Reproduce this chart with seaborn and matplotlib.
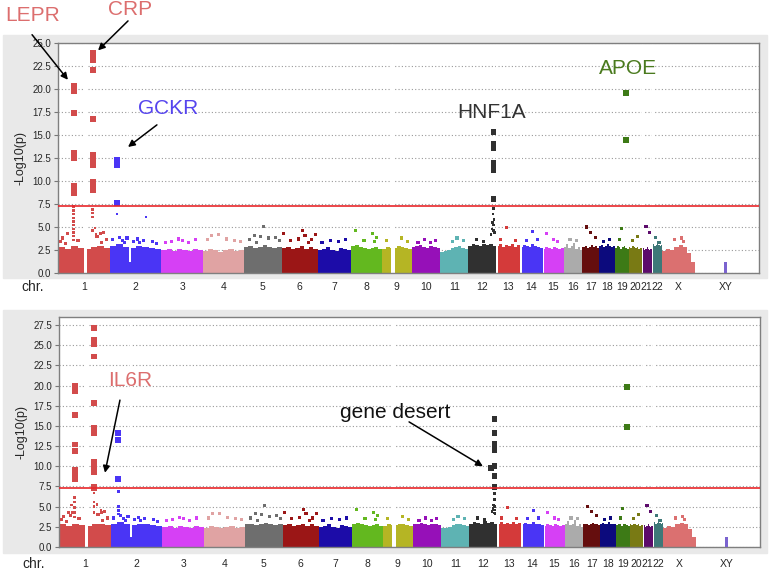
import numpy as np
import pandas as pd
import matplotlib
matplotlib.use("Agg")
import matplotlib.pyplot as plt
import seaborn as sns

# chromosomes, lengths in Mb (XY is a pseudo block at the right)
chroms = ['1', '2', '3', '4', '5', '6', '7', '8', '9', '10', '11', '12', '13', '14',
          '15', '16', '17', '18', '19', '20', '21', '22', 'X', 'XY']
chrom_len = [247, 243, 199, 191, 181, 171, 159, 146, 140, 135, 134, 132, 114, 106,
             100, 89, 79, 76, 64, 62, 47, 50, 155, 295]
chrom_colors = ['#d24b4b', '#4a35f5', '#d640f5', '#e0a3a3', '#6e6e6e', '#9b1616', '#1c0ca8',
                '#63b81f', '#b5b524', '#9610b8', '#5eb3b3', '#303030', '#d43a3a', '#4a35f5',
                '#d640f5', '#ababab', '#650e0e', '#0c0a7d', '#3d7a16', '#797a14', '#5c0b6b',
                '#3e7878', '#db7070', '#7b63cf']

# dense background band: 8 equal segments per chromosome (-log10 p of the bulk)
band = {
    '1': [2.8, 2.6, 2.9, 2.7, 2.6, 2.8, 2.9, 2.7], '2': [2.9, 3.1, 2.8, 2.7, 2.9, 2.8, 2.7, 2.6],
    '3': [2.5, 2.6, 2.4, 2.6, 2.5, 2.4, 2.6, 2.5], '4': [2.4, 2.6, 2.5, 2.3, 2.5, 2.6, 2.4, 2.5],
    '5': [2.8, 2.9, 2.7, 2.8, 3.0, 2.8, 2.7, 2.8], '6': [2.7, 2.8, 2.6, 2.7, 2.9, 2.6, 2.8, 2.6],
    '7': [2.5, 2.6, 2.8, 2.5, 2.4, 2.7, 2.6, 2.5], '8': [2.9, 3.0, 2.8, 2.7, 2.6, 2.7, 2.8, 2.6],
    '9': [2.6, 2.8, 2.7, 2.7, 2.9, 2.8, 2.7, 2.6], '10': [2.8, 2.9, 3.0, 2.8, 2.7, 2.9, 2.8, 2.7],
    '11': [2.3, 2.4, 2.5, 2.7, 2.8, 2.9, 2.7, 2.6], '12': [2.9, 3.1, 3.0, 2.9, 3.2, 3.0, 3.1, 2.9],
    '13': [2.9, 3.1, 2.8, 3.0, 2.9, 3.1, 2.8, 3.0], '14': [2.8, 3.0, 2.9, 2.8, 3.1, 2.9, 2.8, 2.7],
    '15': [2.6, 2.8, 2.7, 2.6, 2.8, 2.7, 2.6, 2.7], '16': [2.8, 3.2, 2.7, 2.9, 3.3, 2.6, 2.8, 2.5],
    '17': [2.8, 2.9, 2.7, 2.8, 3.0, 2.8, 2.9, 2.7], '18': [2.9, 3.0, 2.8, 2.9, 3.1, 2.9, 2.8, 2.9],
    '19': [2.7, 2.9, 2.8, 2.6, 2.8, 2.9, 2.7, 2.6], '20': [2.8, 2.7, 2.9, 2.8, 2.7, 2.8, 2.6, 2.7],
    '21': [2.6, 2.7, 2.5, 2.6, 2.8, 2.6, 2.5, 2.6], '22': [3.0, 3.1, 2.9, 3.0, 3.1, 3.0, 2.9, 3.0],
    'X': [2.4, 2.6, 2.5, 2.8, 3.0, 2.8, 2.2, 1.2],
}
# regions without SNPs (chrom, start, end, floor)
gaps = [('1', 121, 138, 0), ('2', 91, 97, 1.2), ('9', 42, 60, 0), ('13', 0, 8, 0),
        ('14', 0, 8, 0), ('15', 0, 7, 0), ('21', 0, 6, 0), ('22', 0, 6, 0)]

# scattered SNPs above the bulk, shared by both panels (chrom, Mb, -log10 p)
background = [
    ('1', 20, 3.8), ('1', 45, 4.3), ('1', 95, 3.5), ('1', 185, 4.0), ('1', 200, 4.3), ('1', 215, 4.4),
    ('1', 230, 3.6), ('1', 10, 3.4), ('1', 35, 3.2), ('1', 205, 3.3),
    ('2', 10, 3.6), ('2', 45, 3.9), ('2', 60, 3.5), ('2', 80, 3.8), ('2', 70, 3.3),
    ('2', 110, 3.4), ('2', 130, 3.7), ('2', 160, 3.5), ('2', 200, 3.4), ('2', 220, 3.2), ('2', 140, 3.3),
    ('3', 20, 3.3), ('3', 50, 3.4), ('3', 80, 3.7), ('3', 100, 3.5), ('3', 130, 3.3), ('3', 160, 3.6),
    ('4', 20, 3.6), ('4', 40, 4.1), ('4', 70, 4.2), ('4', 110, 3.7), ('4', 150, 3.5), ('4', 175, 3.4),
    ('5', 30, 3.6), ('5', 50, 4.1), ('5', 80, 4.0), ('5', 95, 5.1), ('5', 120, 3.8), ('5', 150, 3.9),
    ('5', 170, 3.5), ('5', 60, 3.3), ('6', 10, 4.3), ('6', 40, 3.5), ('6', 80, 3.7), ('6', 100, 4.6),
    ('6', 110, 4.1), ('6', 140, 3.6), ('6', 160, 4.2), ('6', 125, 3.3),
    ('7', 20, 3.3), ('7', 60, 3.5), ('7', 100, 3.4), ('7', 130, 3.6),
    ('8', 20, 4.6), ('8', 60, 3.5), ('8', 100, 4.3), ('8', 120, 3.9), ('8', 110, 3.4),
    ('9', 20, 3.5), ('9', 90, 3.8), ('9', 120, 3.4), ('10', 30, 3.3), ('10', 60, 3.6), ('10', 90, 3.3),
    ('10', 115, 3.5), ('11', 60, 3.4), ('11', 80, 3.8), ('11', 110, 3.5), ('12', 40, 3.6), ('12', 70, 3.4),
    ('13', 20, 3.6), ('13', 50, 4.9), ('13', 90, 3.5), ('14', 30, 3.5), ('14', 60, 4.5), ('14', 80, 3.6),
    ('15', 20, 4.3), ('15', 50, 3.6), ('15', 70, 3.4), ('16', 30, 3.6), ('16', 60, 3.5),
    ('17', 20, 5.0), ('17', 40, 4.4), ('17', 60, 3.9), ('18', 20, 3.4), ('18', 50, 3.6),
    ('19', 30, 4.8), ('19', 20, 3.6), ('20', 20, 3.5), ('20', 40, 4.0), ('21', 20, 5.1), ('21', 35, 4.4),
    ('22', 20, 3.9), ('22', 35, 3.3), ('X', 60, 3.6), ('X', 90, 3.8), ('X', 100, 3.4),
    ('XY', 147, 0.2), ('XY', 147, 0.4), ('XY', 147, 0.6), ('XY', 147, 0.8), ('XY', 147, 1.0),
]

# top panel: genome-wide hits (big squares) and sub-threshold SNPs near them
hits_top = [
    ('1', 74, 20.3), ('1', 74, 20.0), ('1', 74, 19.8), ('1', 74, 17.4), ('1', 74, 13.1), ('1', 74, 12.5),
    ('1', 74, 9.5), ('1', 74, 9.2), ('1', 74, 8.9), ('1', 74, 8.7),
    ('1', 165, 23.9), ('1', 165, 23.5), ('1', 165, 23.2), ('1', 165, 22.1), ('1', 165, 16.7),
    ('1', 165, 12.8), ('1', 165, 12.5), ('1', 165, 12.3), ('1', 165, 11.7),
    ('1', 165, 9.9), ('1', 165, 9.6), ('1', 165, 9.3), ('1', 165, 9.0),
    ('2', 33, 12.3), ('2', 33, 11.7), ('2', 33, 7.6),
    ('12', 119, 15.3), ('12', 119, 14.0), ('12', 119, 13.6), ('12', 119, 12.0), ('12', 119, 11.6),
    ('12', 119, 11.2), ('12', 119, 8.0),
    ('19', 51, 19.6), ('19', 51, 14.5),
]
sub_top = [
    ('1', 74, 7.2), ('1', 74, 6.8), ('1', 74, 6.4), ('1', 74, 6.0), ('1', 74, 5.6),
    ('1', 74, 5.2), ('1', 74, 4.8), ('1', 74, 4.4), ('1', 74, 4.0),
    ('1', 74, 3.6), ('1', 165, 6.9), ('1', 165, 6.5), ('1', 165, 6.1),
    ('1', 165, 4.6), ('1', 175, 4.9), ('1', 180, 4.2), ('2', 33, 6.4), ('2', 170, 6.1),
    ('12', 119, 7.0), ('12', 117, 6.4), ('12', 121, 5.8), ('12', 115, 5.5), ('12', 120, 5.2),
    ('12', 112, 4.8), ('12', 118, 4.6), ('12', 108, 4.2), ('12', 123, 4.4),
]

# bottom panel
hits_bot = [
    ('1', 74, 20.0), ('1', 74, 19.7), ('1', 74, 19.3), ('1', 74, 16.4), ('1', 74, 12.7), ('1', 74, 11.9),
    ('1', 74, 9.5), ('1', 74, 9.2), ('1', 74, 8.9), ('1', 74, 8.4),
    ('1', 166, 27.1), ('1', 166, 25.6), ('1', 166, 25.2), ('1', 166, 23.6), ('1', 166, 17.8),
    ('1', 166, 14.7), ('1', 166, 14.3), ('1', 166, 14.1), ('1', 166, 10.6), ('1', 166, 10.2),
    ('1', 166, 9.8), ('1', 166, 9.3), ('1', 166, 7.5), ('1', 166, 7.3),
    ('2', 34, 14.1), ('2', 34, 13.3), ('2', 34, 8.4),
    ('12', 119, 15.9), ('12', 119, 14.1), ('12', 119, 12.8), ('12', 119, 12.4), ('12', 119, 12.0),
    ('12', 119, 10.0), ('12', 119, 8.8), ('12', 119, 7.4), ('12', 102, 9.75),
    ('19', 51, 19.8), ('19', 51, 14.9),
]
sub_bot = [
    ('1', 74, 6.1), ('1', 74, 5.6), ('1', 74, 4.9), ('1', 74, 4.3), ('1', 74, 3.7),
    ('1', 60, 5.2), ('1', 62, 4.3), ('1', 55, 3.9), ('1', 166, 6.7), ('1', 166, 5.6),
    ('1', 166, 5.0), ('1', 166, 4.3), ('1', 180, 5.3), ('1', 200, 4.6),
    ('2', 34, 6.9), ('2', 34, 5.0), ('2', 34, 4.5), ('2', 34, 4.1),
    ('12', 119, 6.6), ('12', 119, 5.9), ('12', 119, 5.0), ('12', 119, 4.6), ('12', 119, 4.2),
    ('12', 115, 5.2), ('12', 112, 4.8), ('12', 108, 4.4), ('12', 122, 4.1),
]

# gene labels: (text, x, y, colour) and arrows (tail, head) in data units
labels_top = [('LEPR', -118, 28.0, '#dc6e6e'), ('CRP', 341, 28.6, '#dc6e6e'),
              ('GCKR', 522, 17.9, '#5544ee'), ('HNF1A', 2058, 17.4, '#333333'),
              ('APOE', 2703, 22.2, '#4a7a1e')]
arrows_top = [((-123, 25.9), (47, 21.0)), ((332, 27.4), (190, 24.2)), ((469, 16.1), (332, 13.7))]
labels_bot = [('IL6R', 337, 20.6, '#dc6e6e'), ('gene desert', 1593, 16.7, '#111111')]
arrows_bot = [((289, 18.2), (218, 9.2)), ((1660, 15.5), (2010, 10.0))]

yticks_top = [0.0, 2.5, 5.0, 7.5, 10.0, 12.5, 15.0, 17.5, 20.0, 22.5, 25.0]
yticks_bot = [0.0, 2.5, 5.0, 7.5, 10.0, 12.5, 15.0, 17.5, 20.0, 22.5, 25.0, 27.5]
threshold = 7.3

starts = dict(zip(chroms, np.cumsum([0] + chrom_len[:-1])))
lengths = dict(zip(chroms, chrom_len))
palette = dict(zip(chroms, chrom_colors))

sns.set_style("white")
plt.rcParams['font.family'] = ['Liberation Sans', 'DejaVu Sans']


def to_df(rows):
    df = pd.DataFrame(rows, columns=['chrom', 'pos', 'logp'])
    df['x'] = df['chrom'].map(starts) + df['pos']
    return df


def draw_panel(ax, hits, subs, labels, arrows, yticks, ymax, pad, chr_off):
    # bulk of SNPs as coloured band
    for c, heights in band.items():
        w = lengths[c] / len(heights)
        lefts = [starts[c] + i * w for i in range(len(heights))]
        ax.bar(lefts, heights, width=w, align='edge', color=palette[c], linewidth=0, zorder=2)
    for c, a, b, floor in gaps:
        ax.bar(starts[c] + a, ymax, bottom=floor, width=b - a, align='edge', color='white',
               linewidth=0, zorder=2.5)
    sns.scatterplot(data=to_df(background), x='x', y='logp', hue='chrom', palette=palette,
                    marker='s', s=5, linewidth=0, legend=False, ax=ax, zorder=3)
    sns.scatterplot(data=to_df(subs), x='x', y='logp', hue='chrom', palette=palette,
                    marker='s', s=3.5, linewidth=0, legend=False, ax=ax, zorder=3)
    sns.scatterplot(data=to_df(hits), x='x', y='logp', hue='chrom', palette=palette,
                    marker='s', s=18, linewidth=0, legend=False, ax=ax, zorder=4)
    ax.axhline(threshold, color='#e8262a', lw=1.2, zorder=5)

    ax.set_xlim(0, 3324)
    ax.set_ylim(0, ymax)
    ax.set_yticks(yticks)
    ax.set_yticklabels([f'{t:.1f}' for t in yticks])
    centers = [starts[c] + lengths[c] / 2 for c in chroms]
    centers[-1] = starts['XY'] + 147
    ax.set_xticks(centers)
    ax.set_xticklabels(chroms)
    ax.tick_params(axis='x', length=0, pad=pad, labelsize=7.5)
    ax.tick_params(axis='y', length=3, width=0.8, color='#777777', labelsize=7, pad=2, left=True)
    ax.yaxis.grid(True, linestyle=(0, (1, 2)), color='#999999', lw=0.8, zorder=1)
    ax.set_axisbelow(True)
    for s in ax.spines.values():
        s.set_color('#7f7f7f')
        s.set_linewidth(1)
    ax.set_xlabel('')
    ax.set_ylabel('-Log10(p)', fontsize=9, labelpad=4)
    ax.text(-118, chr_off, 'chr.', fontsize=10, ha='center', va='center',
            transform=ax.get_xaxis_transform(), clip_on=False)

    for txt, x, y, col in labels:
        ax.text(x, y, txt, color=col, fontsize=15, ha='center', va='center', clip_on=False, zorder=6)
    for tail, head in arrows:
        ax.annotate('', xy=head, xytext=tail, annotation_clip=False, zorder=6,
                    arrowprops=dict(arrowstyle='-|>', color='black', lw=1.1,
                                    mutation_scale=10, shrinkA=0, shrinkB=0))


fig = plt.figure(figsize=(7.69, 5.71), dpi=100)
for y0 in (1 - 278 / 571, 1 - 553 / 571):
    fig.add_artist(plt.Rectangle((3 / 769, y0), 764 / 769, 243 / 571, transform=fig.transFigure,
                                 color='#e9e9e9', zorder=0))

ax1 = fig.add_axes([58 / 769, 1 - 273 / 571, 701 / 769, 230 / 571])
ax2 = fig.add_axes([59 / 769, 1 - 547 / 571, 701 / 769, 230 / 571])
draw_panel(ax1, hits_top, sub_top, labels_top, arrows_top, yticks_top, 25.0, 6.5, -0.061)
draw_panel(ax2, hits_bot, sub_bot, labels_bot, arrows_bot, yticks_bot, 28.5, 8.5, -0.072)

fig.savefig('out.png', dpi=100)
